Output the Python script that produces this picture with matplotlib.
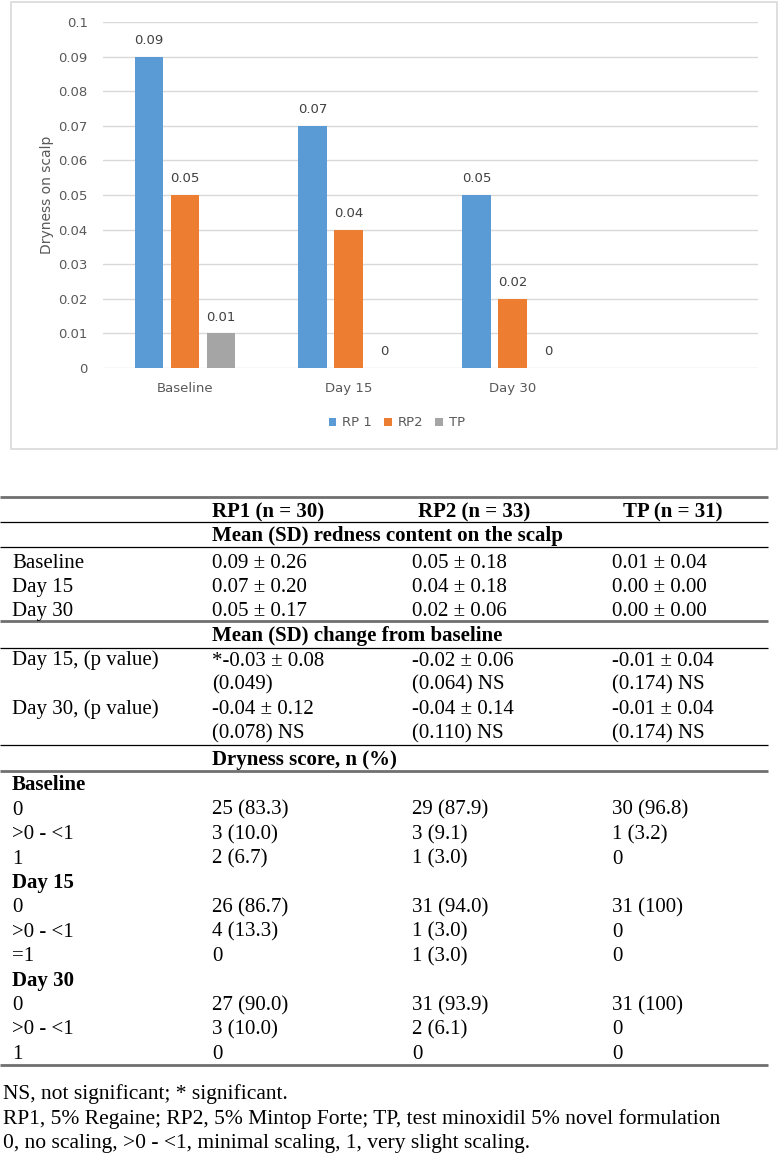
import matplotlib.pyplot as plt
from matplotlib.patches import Rectangle

# chart data
groups = ['Baseline', 'Day 15', 'Day 30']
series = ['RP 1', 'RP2', 'TP']
rp1 = [0.09, 0.07, 0.05]
rp2 = [0.05, 0.04, 0.02]
tp = [0.01, 0, 0]
colors = ['#5b9bd5', '#ed7d31', '#a5a5a5']

# table data
col_headers = ['RP1 (n = 30)', 'RP2 (n = 33)', 'TP (n = 31)']
mean_title = 'Mean (SD) redness content on the scalp'
mean_rows = ['Baseline', 'Day 15', 'Day 30']
mean_vals = [['0.09 ± 0.26', '0.05 ± 0.18', '0.01 ± 0.04'],
             ['0.07 ± 0.20', '0.04 ± 0.18', '0.00 ± 0.00'],
             ['0.05 ± 0.17', '0.02 ± 0.06', '0.00 ± 0.00']]
change_title = 'Mean (SD) change from baseline'
change_rows = ['Day 15, (p value)', '', 'Day 30, (p value)', '']
change_vals = [['*-0.03 ± 0.08', '-0.02 ± 0.06', '-0.01 ± 0.04'],
               ['(0.049)', '(0.064) NS', '(0.174) NS'],
               ['-0.04 ± 0.12', '-0.04 ± 0.14', '-0.01 ± 0.04'],
               ['(0.078) NS', '(0.110) NS', '(0.174) NS']]
dry_title = 'Dryness score, n (%)'
dry_blocks = ['Baseline', 'Day 15', 'Day 30']
dry_levels = [['0', '>0 - <1', '1'],
              ['0', '>0 - <1', '=1'],
              ['0', '>0 - <1', '1']]
dry_vals = [[['25 (83.3)', '29 (87.9)', '30 (96.8)'],
             ['3 (10.0)', '3 (9.1)', '1 (3.2)'],
             ['2 (6.7)', '1 (3.0)', '0']],
            [['26 (86.7)', '31 (94.0)', '31 (100)'],
             ['4 (13.3)', '1 (3.0)', '0'],
             ['0', '1 (3.0)', '0']],
            [['27 (90.0)', '31 (93.9)', '31 (100)'],
             ['3 (10.0)', '2 (6.1)', '0'],
             ['0', '0', '0']]]
notes = ['NS, not significant; * significant.',
         'RP1, 5% Regaine; RP2, 5% Mintop Forte; TP, test minoxidil 5% novel formulation',
         '0, no scaling, >0 - <1, minimal scaling, 1, very slight scaling.']

W, H = 778, 1156
fig = plt.figure(figsize=(W / 100, H / 100), dpi=100)

# overlay in pixel coords for the box and the table
bg = fig.add_axes([0, 0, 1, 1])
bg.set_xlim(0, W)
bg.set_ylim(H, 0)
bg.axis('off')
bg.add_patch(Rectangle((11, 2), 766, 447, fill=False, edgecolor='#d9d9d9', lw=1.2))

# bar chart
ax = fig.add_axes([103 / W, 1 - 368 / H, 655 / W, 346 / H])
x = range(len(groups))
bw = 0.175
off = 0.22
for i, (vals, name) in enumerate(zip([rp1, rp2, tp], series)):
    xs = [k + (i - 1) * off for k in x]
    bars = ax.bar(xs, vals, bw, color=colors[i], label=name, zorder=3)
    for b, v in zip(bars, vals):
        ax.annotate('{:g}'.format(v), (b.get_x() + b.get_width() / 2, v),
                    xytext=(0, 7), textcoords='offset points', ha='center', va='bottom',
                    fontsize=9.5, color='#404040')
ax.set_xlim(-0.5, 3.5)
ax.set_ylim(0, 0.1)
ax.set_yticks([i / 100 for i in range(11)])
ax.set_yticklabels(['0'] + ['0.0%d' % i for i in range(1, 10)] + ['0.1'])
ax.set_xticks(list(x))
ax.set_xticklabels(groups)
ax.grid(axis='y', color='#d9d9d9', lw=1, zorder=0)
for s in ax.spines.values():
    s.set_visible(False)
ax.tick_params(length=0, labelsize=9.5, labelcolor='#595959')
ax.tick_params(axis='y', pad=11)
ax.tick_params(axis='x', pad=10)
ax.set_ylabel('Dryness on scalp', fontsize=10, color='#595959', labelpad=3)
fig.legend(loc='center', bbox_to_anchor=(397 / W, 1 - 423 / H), ncol=3, frameon=False,
           fontsize=9.5, handlelength=0.6, handleheight=0.6, handletextpad=0.45,
           columnspacing=0.9, labelcolor='#595959')

# table
fs = 15
tf = dict(family='Liberation Serif', color='black')
cx = [12, 212, 412, 612]
hx = [212, 418, 623]
pitch = 24.4


def put(xp, yc, s, bold=False, size=fs):
    bg.text(xp, yc + 6.5, s, ha='left', va='baseline', fontsize=size,
            fontweight='bold' if bold else 'normal', **tf)


def rule(y, thick=False):
    bg.plot([0, 768], [y, y], color='#707070' if thick else 'black',
            lw=2.0 if thick else 0.9, solid_capstyle='butt')


rule(497, True)
for j, h in enumerate(col_headers):
    put(hx[j], 511, h, True)
rule(522)
put(cx[1], 535, mean_title, True)
rule(547)
for i, r in enumerate(mean_rows):
    y = 561 + i * pitch
    put(cx[0], y, r)
    for j in range(3):
        put(cx[j + 1], y, mean_vals[i][j])
rule(621, True)
put(cx[1], 635, change_title, True)
rule(648)
for i, r in enumerate(change_rows):
    y = 659 + i * pitch
    put(cx[0], y, r)
    for j in range(3):
        put(cx[j + 1], y, change_vals[i][j])
rule(745)
put(cx[1], 759, dry_title, True)
rule(771, True)
y = 784
for b, blk in enumerate(dry_blocks):
    put(cx[0], y, blk, True)
    y += pitch
    for i, lev in enumerate(dry_levels[b]):
        put(cx[0], y, lev)
        for j in range(3):
            put(cx[j + 1], y, dry_vals[b][i][j])
        y += pitch
rule(1065, True)
for i, n in enumerate(notes):
    put(3, 1093 + i * pitch, n, size=15.5)

fig.savefig('out.png', dpi=100)
